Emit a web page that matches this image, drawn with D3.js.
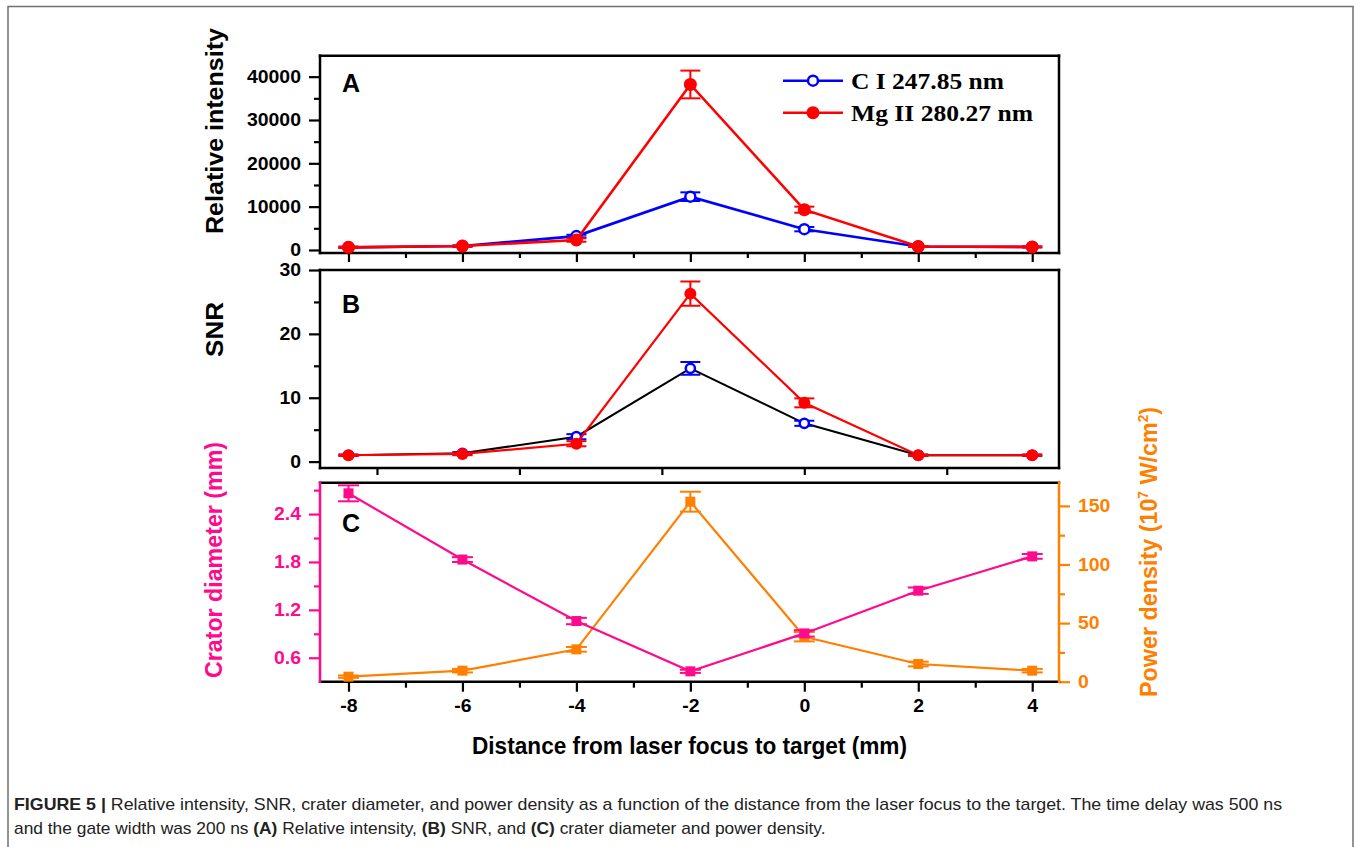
<!DOCTYPE html>
<html>
<head>
<meta charset="utf-8">
<script src="https://cdn.jsdelivr.net/npm/d3@7"></script>
<style>
  body { margin: 0; background: #fff; }
  svg { display: block; }
  text { font-family: "Liberation Sans", Arial, sans-serif; }
</style>
</head>
<body>
<svg id="fig" width="1354" height="847"></svg>
<script>
// Distance from laser focus to target (mm)
const distances = [-8, -6, -4, -2, 0, 2, 4];

// (A) relative line intensity
const intensityC     = [600, 900, 3200, 12300, 4800, 800, 700];
const intensityCErr  = [150, 150, 300, 1000, 500, 100, 100];
const intensityMg    = [600, 900, 2300, 38200, 9300, 800, 700];
const intensityMgErr = [150, 150, 400, 3200, 700, 100, 100];

// (B) signal-to-noise ratio
const snrC     = [1.0, 1.3, 3.9, 14.6, 6.0, 1.0, 1.0];
const snrCErr  = [0.1, 0.2, 0.4, 1.0, 0.4, 0.1, 0.1];
const snrMg    = [1.0, 1.2, 2.8, 26.3, 9.2, 1.0, 1.0];
const snrMgErr = [0.1, 0.2, 0.4, 1.9, 0.7, 0.1, 0.1];

// (C) crater diameter (mm) and power density (10^7 W/cm^2)
const craterDiam   = [2.66, 1.83, 1.06, 0.43, 0.905, 1.44, 1.87];
const craterErr    = [0.10, 0.03, 0.04, 0.02, 0.04, 0.04, 0.03];
const powerDensity = [4.3, 9.4, 27.6, 153.6, 38.4, 15.1, 9.4];
const powerErr     = [1.0, 1.5, 2.0, 8.5, 4.0, 2.0, 1.5];

// Tick values
const distanceTicks      = [-8, -6, -4, -2, 0, 2, 4];
const distanceMinorTicks = [-7, -5, -3, -1, 1, 3];
const snrPanelXTicks     = [-7.5, -5, -2.5, 0, 2.5];
const intensityTicks      = [0, 10000, 20000, 30000, 40000];
const intensityMinorTicks = [5000, 15000, 25000, 35000];
const snrTicks      = [0, 10, 20, 30];
const snrMinorTicks = [5, 15, 25];
const craterTicks      = [0.6, 1.2, 1.8, 2.4];
const craterMinorTicks = [0.9, 1.5, 2.1, 2.7];
const powerTicks      = [0, 50, 100, 150];
const powerMinorTicks = [25, 75, 125];

const BLUE = "#0000ff", RED = "#ff0000", PINK = "#ff0a8c", ORANGE = "#ff8000";

// plain hyphen for negative numbers
const intFmt = d => (d < 0 ? "-" : "") + Math.abs(d);
const oneDecFmt = d => d.toFixed(1);

const svg = d3.select("#fig");

// outer figure frame
svg.append("rect").attr("x", 8).attr("y", 6.5).attr("width", 1345).attr("height", 900)
  .attr("fill", "none").attr("stroke", "#707070").attr("stroke-width", 1.5);

const x = d3.scaleLinear().domain([-8.5, 4.47]).range([320, 1059]);
const yA = d3.scaleLinear().domain([-700, 44840]).range([253, 55.7]);
const yB = d3.scaleLinear().domain([-1, 30]).range([468, 270]);
const yCl = d3.scaleLinear().domain([0.3, 2.793]).range([681.7, 482.7]);
const yCr = d3.scaleLinear().domain([0, 169.8]).range([681.7, 482.7]);

function styleAxis(g, color) {
  g.select(".domain").remove();
  g.selectAll(".tick line").attr("stroke", color).attr("stroke-width", 2.2);
  g.selectAll(".tick text").attr("fill", color)
    .style("font-size", "18px").style("font-weight", "bold")
    .style("font-family", '"Liberation Sans", Arial, sans-serif')
    .each(function () {
      const w = this.getComputedTextLength();
      if (w > 0) d3.select(this).attr("textLength", w * 1.08).attr("lengthAdjust", "spacingAndGlyphs");
    });
}

function addAxis(axisFn, scale, pos, major, minor, color, fmt, majorLen, minorLen, showLabels) {
  const tr = (axisFn === d3.axisBottom) ? `translate(0,${pos})` : `translate(${pos},0)`;
  const gMaj = svg.append("g").attr("transform", tr)
    .call(axisFn(scale).tickValues(major).tickSize(majorLen).tickPadding(8)
      .tickFormat(showLabels ? fmt : ""));
  styleAxis(gMaj, color);
  if (minor && minor.length) {
    const gMin = svg.append("g").attr("transform", tr)
      .call(axisFn(scale).tickValues(minor).tickSize(minorLen).tickFormat(""));
    styleAxis(gMin, color);
  }
}

function frameLine(x1, y1, x2, y2, color) {
  svg.append("line").attr("x1", x1).attr("y1", y1).attr("x2", x2).attr("y2", y2)
    .attr("stroke", color).attr("stroke-width", 2.5).attr("stroke-linecap", "square");
}

function drawSeries(ys, vals, errs, opts) {
  const pts = distances.map((d, i) => [x(d), ys(vals[i])]);
  svg.append("path").attr("d", d3.line()(pts)).attr("fill", "none")
    .attr("stroke", opts.lineColor).attr("stroke-width", opts.lineWidth);
  const eg = svg.append("g").attr("stroke", opts.color).attr("stroke-width", opts.errWidth || 2);
  distances.forEach((d, i) => {
    const cx = x(d), y1 = ys(vals[i] - errs[i]), y2 = ys(vals[i] + errs[i]);
    const hw = opts.capHalf || 10;
    eg.append("line").attr("x1", cx).attr("x2", cx).attr("y1", y1).attr("y2", y2);
    eg.append("line").attr("x1", cx - hw).attr("x2", cx + hw).attr("y1", y1).attr("y2", y1);
    eg.append("line").attr("x1", cx - hw).attr("x2", cx + hw).attr("y1", y2).attr("y2", y2);
  });
  const mg = svg.append("g");
  distances.forEach((d, i) => {
    const cx = x(d), cy = ys(vals[i]);
    if (opts.marker === "circle") {
      mg.append("circle").attr("cx", cx).attr("cy", cy).attr("r", opts.r).attr("fill", opts.color);
    } else if (opts.marker === "open") {
      mg.append("circle").attr("cx", cx).attr("cy", cy).attr("r", opts.r)
        .attr("fill", "#fff").attr("stroke", opts.color).attr("stroke-width", 2.5);
    } else {
      const s = opts.size;
      mg.append("rect").attr("x", cx - s / 2).attr("y", cy - s / 2).attr("width", s).attr("height", s)
        .attr("fill", opts.color);
    }
  });
}

function title(txt, tx, ty, len, color, rotate) {
  const t = svg.append("text")
    .attr("transform", `translate(${tx},${ty})` + (rotate ? " rotate(-90)" : ""))
    .attr("text-anchor", "middle").attr("fill", color)
    .style("font-size", "24px").style("font-weight", "bold");
  if (typeof txt === "string") t.text(txt);
  else txt(t);
  if (len) t.attr("textLength", len).attr("lengthAdjust", "spacingAndGlyphs");
  return t;
}

function panelLetter(letter, cx, baseline) {
  svg.append("text").attr("x", cx).attr("y", baseline).attr("text-anchor", "middle")
    .style("font-size", "25px").style("font-weight", "bold").text(letter);
}

// ---------- Panel A: relative intensity ----------
addAxis(d3.axisLeft, yA, 320, intensityTicks, intensityMinorTicks, "#000", intFmt, 11, 6, true);
addAxis(d3.axisBottom, x, 253, distanceTicks, distanceMinorTicks, "#000", "", 9, 5, false);
frameLine(320, 55.7, 1059, 55.7, "#000");
frameLine(320, 253, 1059, 253, "#000");
frameLine(320, 55.7, 320, 253, "#000");
frameLine(1059, 55.7, 1059, 253, "#000");
drawSeries(yA, intensityC, intensityCErr, { color: BLUE, lineColor: BLUE, lineWidth: 2.6, marker: "open", r: 5 });
drawSeries(yA, intensityMg, intensityMgErr, { color: RED, lineColor: RED, lineWidth: 2.6, marker: "circle", r: 6.5 });
panelLetter("A", 351, 92);
title("Relative intensity", 223, 131, 206, "#000", true);

// legend
const legend = [
  { label: "C I 247.85 nm", color: BLUE, marker: "open", y: 80.7, len: 153 },
  { label: "Mg II 280.27 nm", color: RED, marker: "circle", y: 112.7, len: 182 }
];
legend.forEach(l => {
  svg.append("line").attr("x1", 783).attr("x2", 843).attr("y1", l.y).attr("y2", l.y)
    .attr("stroke", l.color).attr("stroke-width", 2.6);
  if (l.marker === "open") {
    svg.append("circle").attr("cx", 813).attr("cy", l.y).attr("r", 5)
      .attr("fill", "#fff").attr("stroke", l.color).attr("stroke-width", 2.5);
  } else {
    svg.append("circle").attr("cx", 813).attr("cy", l.y).attr("r", 6.5).attr("fill", l.color);
  }
  svg.append("text").attr("x", 851).attr("y", l.y + 8)
    .style("font-family", '"Liberation Serif", "Times New Roman", serif')
    .style("font-size", "23px").style("font-weight", "bold")
    .attr("textLength", l.len).attr("lengthAdjust", "spacingAndGlyphs")
    .text(l.label);
});

// ---------- Panel B: SNR ----------
addAxis(d3.axisLeft, yB, 320, snrTicks, snrMinorTicks, "#000", intFmt, 11, 6, true);
addAxis(d3.axisBottom, x, 468, snrPanelXTicks, [], "#000", "", 7, 0, false);
frameLine(320, 270, 1059, 270, "#000");
frameLine(320, 468, 1059, 468, "#000");
frameLine(320, 270, 320, 468, "#000");
frameLine(1059, 270, 1059, 468, "#000");
drawSeries(yB, snrC, snrCErr, { color: BLUE, lineColor: "#000", lineWidth: 2, marker: "open", r: 4.6 });
drawSeries(yB, snrMg, snrMgErr, { color: RED, lineColor: RED, lineWidth: 2.2, marker: "circle", r: 6 });
panelLetter("B", 351, 313);
title("SNR", 223, 329.5, 55, "#000", true);

// ---------- Panel C: crater diameter & power density ----------
addAxis(d3.axisLeft, yCl, 320, craterTicks, craterMinorTicks, PINK, oneDecFmt, 11, 6, true);
addAxis(d3.axisRight, yCr, 1059, powerTicks, powerMinorTicks, ORANGE, intFmt, 11, 6, true);
addAxis(d3.axisBottom, x, 681.7, distanceTicks, distanceMinorTicks, "#000", intFmt, 10, 6, true);
frameLine(320, 482.7, 1059, 482.7, "#000");
frameLine(320, 681.7, 1059, 681.7, "#000");
frameLine(320, 482.7, 320, 681.7, PINK);
frameLine(1059, 482.7, 1059, 681.7, ORANGE);
drawSeries(yCr, powerDensity, powerErr, { color: ORANGE, lineColor: ORANGE, lineWidth: 2.2, marker: "square", size: 10, capHalf: 10.5 });
drawSeries(yCl, craterDiam, craterErr, { color: PINK, lineColor: PINK, lineWidth: 2.2, marker: "square", size: 10, capHalf: 10.5 });
panelLetter("C", 351, 532);
title("Crator diameter (mm)", 222, 560, 236, PINK, true);
title(t => {
  t.append("tspan").text("Power density (10");
  t.append("tspan").text("7").attr("dy", -9).style("font-size", "14px");
  t.append("tspan").text(" W/cm").attr("dy", 9);
  t.append("tspan").text("2").attr("dy", -9).style("font-size", "14px");
  t.append("tspan").text(")").attr("dy", 9);
}, 1157, 552, 290, ORANGE, true);

// x-axis title
title("Distance from laser focus to target (mm)", 689.5, 754, 435, "#000", false);

// ---------- caption ----------
function captionLine(y, parts, targetWidth) {
  const t = svg.append("text").attr("x", 0).attr("y", 0).style("font-size", "16px").attr("fill", "#222");
  parts.forEach(p => t.append("tspan").text(p[0]).style("font-weight", p[1] ? "bold" : "normal"));
  const w = t.node().getComputedTextLength();
  t.attr("transform", `translate(14,${y}) scale(${targetWidth / w},1)`);
}
captionLine(810, [
  ["FIGURE 5 | ", true],
  ["Relative intensity, SNR, crater diameter, and power density as a function of the distance from the laser focus to the target. The time delay was 500 ns", false]
], 1269);
captionLine(834, [
  ["and the gate width was 200 ns ", false], ["(A)", true],
  [" Relative intensity, ", false], ["(B)", true],
  [" SNR, and ", false], ["(C)", true],
  [" crater diameter and power density.", false]
], 812);
</script>
</body>
</html>
